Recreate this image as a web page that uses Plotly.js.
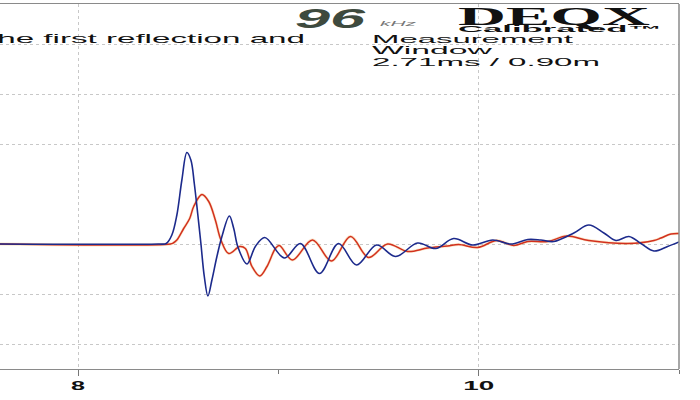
<!DOCTYPE html>
<html>
<head>
<meta charset="utf-8">
<script src="https://cdn.plot.ly/plotly-3.0.1.min.js"></script>
<style>
  html, body { margin: 0; padding: 0; background: #ffffff; }
  #chart { width: 700px; height: 400px; }
</style>
</head>
<body>
<div id="chart"></div>
<script>
// ---- Data (time in ms, impulse amplitude in arbitrary grid units) ----
var blueTime = [7.61, 8.40, 8.44, 8.468, 8.493, 8.518, 8.543, 8.563, 8.58, 8.597, 8.613, 8.63, 8.648, 8.668, 8.693, 8.718, 8.755, 8.777, 8.797, 8.843, 8.885, 8.932, 9.03, 9.11, 9.205, 9.30, 9.39, 9.49, 9.585, 9.695, 9.785, 9.875, 9.97, 10.07, 10.16, 10.245, 10.31, 10.375, 10.475, 10.55, 10.625, 10.685, 10.75, 10.81, 10.875, 10.943, 11.0];
var blueAmp  = [0, 0, 0.01, 0.18, 0.58, 1.28, 1.83, 1.68, 1.21, 0.61, 0.01, -0.65, -1.04, -0.72, -0.25, 0.15, 0.56, 0.31, -0.05, -0.40, -0.05, 0.13, -0.28, 0.01, -0.59, 0.01, -0.42, -0.02, -0.25, 0.02, -0.09, 0.11, -0.02, 0.08, 0.0, 0.09, 0.08, 0.05, 0.22, 0.38, 0.22, 0.07, 0.15, 0.01, -0.14, -0.05, 0.04];

var redTime = [7.61, 8.46, 8.475, 8.493, 8.527, 8.557, 8.577, 8.618, 8.652, 8.685, 8.713, 8.752, 8.807, 8.835, 8.868, 8.907, 8.943, 8.985, 9.005, 9.07, 9.17, 9.265, 9.36, 9.45, 9.545, 9.645, 9.745, 9.845, 9.9, 9.995, 10.09, 10.175, 10.245, 10.345, 10.44, 10.55, 10.745, 10.875, 10.91, 10.96, 11.0];
var redAmp  = [0, 0, 0.02, 0.08, 0.31, 0.51, 0.75, 0.99, 0.85, 0.48, 0.08, -0.19, -0.05, -0.09, -0.45, -0.64, -0.45, -0.09, -0.03, -0.32, 0.08, -0.34, 0.15, -0.27, 0.0, -0.15, -0.08, -0.04, -0.01, -0.07, 0.07, -0.03, 0.05, 0.05, 0.16, 0.07, 0.01, 0.07, 0.12, 0.2, 0.21];

var xTickVals = [8, 10];
var xTickText = ['8', '10'];

// ---- Texts ----
var noteText = 'the first reflection and';
var rateText = '96';
var rateUnit = 'kHz';
var brandText = 'DEQX';
var brandSub = 'Calibrated™';
var windowLines = ['Measurement', 'Window', '2.71ms / 0.90m'];

// ---- Geometry helpers (plot area 0..679 x 4..369 px) ----
var PL = 0, PR = 679, PT = 4, PB = 369;
function px(x) { return (x - PL) / (PR - PL); }
function py(y) { return (PB - y) / (PB - PT); }

var traces = [
  { x: redTime, y: redAmp, type: 'scatter', mode: 'lines',
    line: { color: '#f0a030', width: 2.8, shape: 'spline', smoothing: 1 }, opacity: 0.25,
    hoverinfo: 'skip', showlegend: false },
  { x: redTime, y: redAmp, type: 'scatter', mode: 'lines',
    line: { color: '#d2301e', width: 1.5, shape: 'spline', smoothing: 1 }, showlegend: false },
  { x: blueTime, y: blueAmp, type: 'scatter', mode: 'lines',
    line: { color: '#1c2a8c', width: 1.6, shape: 'spline', smoothing: 1 }, showlegend: false }
];

var blocks = [
  { lines: [noteText], left: -12, base: 42.3, step: 0, size: 13, family: 'Liberation Sans', weight: 'normal', style: 'normal', color: '#111111', asc: 0.905, widths: [317] },
  { lines: [rateText], left: 295, base: 28.5, step: 0, size: 28, family: 'Liberation Sans', weight: 'bold', style: 'italic', color: '#3e4a3e', asc: 0.905, widths: [70] },
  { lines: [rateUnit], left: 380, base: 26.7, step: 0, size: 7, family: 'Liberation Sans', weight: 'normal', style: 'italic', color: '#777777', asc: 0.905, widths: [36] },
  { lines: [brandText, '<span style="font-family:\'Liberation Sans\';font-size:9px">' + brandSub + '</span>'],
    left: 458, base: 25, step: 7.3, size: 25, family: 'Liberation Serif', weight: 'bold', style: 'normal', color: '#111111', asc: 0.891, widths: [192, 204] },
  { lines: windowLines, left: 372, base: 42.3, step: 11.4, size: 10.5, family: 'Liberation Sans', weight: 'normal', style: 'normal', color: '#111111', asc: 0.905, widths: [201, 120, 228] }
];

var annotations = blocks.map(function (b) {
  return {
    text: b.lines.join('<br>'), xref: 'paper', yref: 'paper',
    x: px(b.left), y: py(b.base - b.asc * b.size),
    xanchor: 'left', yanchor: 'top', align: 'left',
    showarrow: false, borderpad: 0, borderwidth: 0,
    font: { family: b.family, size: b.size, weight: b.weight, style: b.style, color: b.color }
  };
});

var layout = {
  width: 700, height: 400,
  margin: { l: PL, r: 700 - PR, t: PT, b: 400 - PB, pad: 0 },
  paper_bgcolor: '#ffffff', plot_bgcolor: '#ffffff',
  showlegend: false,
  xaxis: {
    range: [7.61, 11.0], tickvals: xTickVals, ticktext: xTickText,
    ticks: 'outside', ticklen: 6, tickcolor: '#777777', tickwidth: 1,
    showgrid: true, gridcolor: '#c8c8c8', griddash: 'dot', gridwidth: 1,
    zeroline: false, showline: true, linecolor: '#8a8a8a', linewidth: 1, mirror: true,
    tickfont: { family: 'Liberation Sans', size: 12, color: '#111111', weight: 'bold' },
    minor: { tick0: 0, dtick: 1, ticks: 'outside', ticklen: 4, tickcolor: '#777777', showgrid: false },
    fixedrange: true
  },
  yaxis: {
    range: [-2.5, 4.8], tickvals: [-2, -1, 0, 2, 3, 4], showticklabels: false,
    ticks: '', showgrid: true, gridcolor: '#c8c8c8', griddash: 'dot', gridwidth: 1,
    zeroline: false, showline: false, fixedrange: true
  },
  shapes: [
    { type: 'line', xref: 'paper', yref: 'paper', x0: 1, x1: 1, y0: 0, y1: 1,
      line: { color: '#8a8a8a', width: 1.5 } }
  ],
  annotations: annotations
};

Plotly.newPlot('chart', traces, layout, { staticPlot: true, displayModeBar: false }).then(function (gd) {
  // Stretch lettering horizontally (the scanned original is widened) and set tight line steps
  blocks.forEach(function (b, i) {
    var t = gd.querySelector('g.annotation[data-index="' + i + '"] text.annotation-text');
    if (!t) return;
    var lineNodes = t.querySelectorAll('tspan.line');
    if (lineNodes.length === 0) {
      t.setAttribute('textLength', b.widths[0]);
      t.setAttribute('lengthAdjust', 'spacingAndGlyphs');
    } else {
      lineNodes.forEach(function (ln, k) {
        ln.setAttribute('dy', (k * b.step) + 'px');
        ln.setAttribute('textLength', b.widths[k]);
        ln.setAttribute('lengthAdjust', 'spacingAndGlyphs');
      });
    }
  });
  var tickW = { '8': 14, '10': 31 };
  gd.querySelectorAll('.xtick text').forEach(function (t) {
    var w = tickW[t.textContent];
    if (w) { t.setAttribute('textLength', w); t.setAttribute('lengthAdjust', 'spacingAndGlyphs'); }
  });
});
</script>
</body>
</html>
